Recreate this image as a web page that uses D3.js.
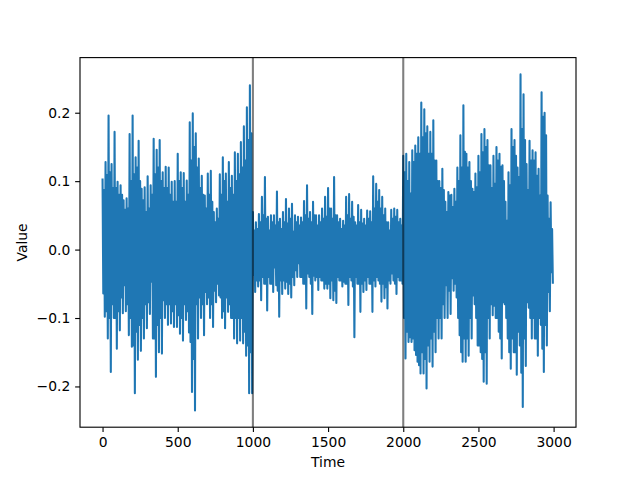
<!DOCTYPE html>
<html>
<head>
<meta charset="utf-8">
<script src="https://cdn.jsdelivr.net/npm/d3@7"></script>
<style>
  html, body { margin: 0; padding: 0; background: #fff; }
  svg { display: block; }
  text { font-family: "DejaVu Sans", sans-serif; font-size: 13.89px; fill: #000; }
</style>
</head>
<body>
<script>
// Series, per 20-step window of Time:
// the highest and lowest value, plus the secondary (inner) high and low of the window.
const binSize = 20;
const upperValues = [
  0.104, 0.128, 0.196, 0.125, 0.172, 0.099, 0.094, 0.072, 0.075, 0.169,
  0.196, 0.135, 0.159, 0.089, 0.091, 0.107, 0.094, 0.162, 0.146, 0.160,
  0.113, 0.121, 0.120, 0.099, 0.100, 0.140, 0.113, 0.112, 0.101, 0.186,
  0.199, 0.170, 0.133, 0.108, 0.079, 0.111, 0.115, 0.055, 0.060, 0.110,
  0.135, 0.111, 0.128, 0.108, 0.142, 0.140, 0.157, 0.180, 0.208, 0.240,
  0.055, 0.040, 0.052, 0.077, 0.106, 0.048, 0.050, 0.050, 0.085, 0.045,
  0.055, 0.074, 0.060, 0.067, 0.050, 0.048, 0.047, 0.071, 0.094, 0.055,
  0.070, 0.050, 0.050, 0.060, 0.077, 0.090, 0.060, 0.106, 0.050, 0.045,
  0.042, 0.077, 0.081, 0.070, 0.040, 0.065, 0.058, 0.045, 0.057, 0.056,
  0.107, 0.096, 0.087, 0.077, 0.060, 0.040, 0.058, 0.060, 0.058, 0.045,
  0.137, 0.140, 0.128, 0.145, 0.152, 0.164, 0.215, 0.205, 0.180, 0.172,
  0.189, 0.130, 0.100, 0.118, 0.070, 0.084, 0.080, 0.089, 0.120, 0.167,
  0.211, 0.140, 0.128, 0.089, 0.111, 0.137, 0.169, 0.176, 0.160, 0.123,
  0.137, 0.150, 0.140, 0.123, 0.070, 0.113, 0.176, 0.160, 0.120, 0.256,
  0.227, 0.125, 0.159, 0.145, 0.142, 0.118, 0.230, 0.200, 0.079, 0.069
];
const upperInnerValues = [
  0.087, 0.109, 0.113, 0.090, 0.090, 0.080, 0.080, 0.058, 0.060, 0.100,
  0.110, 0.120, 0.100, 0.072, 0.055, 0.060, 0.080, 0.110, 0.120, 0.100,
  0.090, 0.090, 0.080, 0.070, 0.070, 0.100, 0.090, 0.070, 0.080, 0.130,
  0.150, 0.120, 0.090, 0.080, 0.060, 0.080, 0.070, 0.040, 0.045, 0.080,
  0.100, 0.070, 0.090, 0.080, 0.100, 0.110, 0.120, 0.130, 0.160, 0.170,
  0.028, 0.030, 0.040, 0.050, 0.045, 0.028, 0.040, 0.035, 0.040, 0.030,
  0.040, 0.038, 0.045, 0.026, 0.040, 0.035, 0.040, 0.050, 0.045, 0.040,
  0.050, 0.035, 0.040, 0.045, 0.048, 0.060, 0.045, 0.050, 0.040, 0.030,
  0.035, 0.050, 0.045, 0.048, 0.035, 0.040, 0.038, 0.035, 0.045, 0.040,
  0.060, 0.070, 0.060, 0.050, 0.040, 0.028, 0.045, 0.048, 0.040, 0.035,
  0.113, 0.100, 0.082, 0.128, 0.140, 0.140, 0.164, 0.170, 0.140, 0.140,
  0.130, 0.100, 0.090, 0.087, 0.055, 0.079, 0.062, 0.070, 0.100, 0.120,
  0.143, 0.120, 0.100, 0.084, 0.091, 0.113, 0.142, 0.150, 0.123, 0.090,
  0.096, 0.130, 0.121, 0.100, 0.042, 0.094, 0.150, 0.137, 0.106, 0.176,
  0.160, 0.087, 0.130, 0.130, 0.108, 0.079, 0.194, 0.167, 0.045, 0.030
];
const lowerInnerValues = [
  -0.064, -0.090, -0.100, -0.080, -0.100, -0.090, -0.070, -0.052, -0.080, -0.100,
  -0.140, -0.120, -0.110, -0.100, -0.080, -0.077, -0.047, -0.130, -0.110, -0.100,
  -0.074, -0.080, -0.080, -0.090, -0.080, -0.096, -0.100, -0.080, -0.090, -0.135,
  -0.160, -0.080, -0.070, -0.080, -0.062, -0.070, -0.080, -0.060, -0.050, -0.070,
  -0.090, -0.070, -0.080, -0.100, -0.100, -0.100, -0.100, -0.120, -0.140, -0.150,
  -0.037, -0.045, -0.045, -0.040, -0.050, -0.040, -0.050, -0.026, -0.060, -0.045,
  -0.045, -0.047, -0.050, -0.040, -0.030, -0.020, -0.040, -0.050, -0.035, -0.050,
  -0.038, -0.040, -0.040, -0.045, -0.050, -0.050, -0.045, -0.060, -0.040, -0.045,
  -0.047, -0.050, -0.040, -0.054, -0.040, -0.050, -0.050, -0.045, -0.040, -0.050,
  -0.045, -0.040, -0.050, -0.050, -0.055, -0.045, -0.035, -0.050, -0.040, -0.045,
  -0.100, -0.120, -0.128, -0.130, -0.154, -0.169, -0.150, -0.160, -0.140, -0.130,
  -0.120, -0.100, -0.100, -0.080, -0.052, -0.060, -0.042, -0.050, -0.100, -0.150,
  -0.130, -0.130, -0.100, -0.067, -0.100, -0.140, -0.160, -0.150, -0.100, -0.080,
  -0.082, -0.100, -0.130, -0.077, -0.100, -0.150, -0.130, -0.150, -0.120, -0.180,
  -0.130, -0.077, -0.100, -0.100, -0.130, -0.100, -0.145, -0.110, -0.062, -0.033
];
const lowerValues = [
  -0.098, -0.130, -0.179, -0.100, -0.145, -0.118, -0.093, -0.090, -0.125, -0.142,
  -0.210, -0.161, -0.148, -0.130, -0.115, -0.094, -0.130, -0.186, -0.150, -0.152,
  -0.100, -0.110, -0.108, -0.113, -0.113, -0.123, -0.133, -0.103, -0.121, -0.208,
  -0.235, -0.130, -0.100, -0.125, -0.080, -0.100, -0.113, -0.077, -0.067, -0.100,
  -0.115, -0.091, -0.100, -0.130, -0.137, -0.133, -0.137, -0.155, -0.210, -0.210,
  -0.062, -0.054, -0.074, -0.050, -0.089, -0.050, -0.062, -0.052, -0.098, -0.065,
  -0.057, -0.065, -0.070, -0.052, -0.040, -0.040, -0.050, -0.086, -0.040, -0.094,
  -0.045, -0.059, -0.045, -0.057, -0.057, -0.071, -0.074, -0.078, -0.045, -0.054,
  -0.050, -0.081, -0.045, -0.128, -0.050, -0.091, -0.062, -0.059, -0.050, -0.091,
  -0.054, -0.045, -0.076, -0.071, -0.086, -0.050, -0.045, -0.065, -0.045, -0.050,
  -0.159, -0.135, -0.135, -0.147, -0.164, -0.181, -0.181, -0.203, -0.164, -0.171,
  -0.150, -0.130, -0.130, -0.100, -0.100, -0.094, -0.060, -0.070, -0.125, -0.164,
  -0.164, -0.155, -0.130, -0.080, -0.140, -0.150, -0.193, -0.196, -0.130, -0.096,
  -0.100, -0.120, -0.159, -0.080, -0.130, -0.174, -0.150, -0.183, -0.140, -0.230,
  -0.170, -0.085, -0.130, -0.130, -0.155, -0.110, -0.179, -0.140, -0.090, -0.050
];
const markerTimes = [1000, 2000];
const xTickValues = [0, 500, 1000, 1500, 2000, 2500, 3000];
const yTickValues = [-0.2, -0.1, 0.0, 0.1, 0.2];
const xLabel = "Time";
const yLabel = "Value";

// Build the line table: four readings per window, in time order
const series = [];
upperValues.forEach((v, i) => {
  const t0 = i * binSize;
  series.push({ t: t0, v: v });
  series.push({ t: t0 + binSize * 0.25, v: lowerInnerValues[i] });
  series.push({ t: t0 + binSize * 0.5, v: upperInnerValues[i] });
  series.push({ t: t0 + binSize * 0.75, v: lowerValues[i] });
});

const W = 640, H = 480;
const mLeft = 80, mRight = 576, mTop = 57.6, mBottom = 427.2;
const pt = 100 / 72;

const tMin = 0, tMax = 2999;
const tPad = (tMax - tMin) * 0.05;
const vExt = d3.extent(series, d => d.v);
const vPad = (vExt[1] - vExt[0]) * 0.05;

const x = d3.scaleLinear().domain([tMin - tPad, tMax + tPad]).range([mLeft, mRight]);
const y = d3.scaleLinear().domain([vExt[0] - vPad, vExt[1] + vPad]).range([mBottom, mTop]);

const svg = d3.select("body").append("svg").attr("width", W).attr("height", H);
svg.append("rect").attr("width", W).attr("height", H).attr("fill", "#fff");

const line = d3.line().x(d => x(d.t)).y(d => y(d.v));
svg.append("path")
  .datum(series)
  .attr("d", line)
  .attr("fill", "none")
  .attr("stroke", "#1f77b4")
  .attr("stroke-width", 1.5 * pt)
  .attr("stroke-linejoin", "round");

svg.selectAll("line.marker")
  .data(markerTimes)
  .enter().append("line")
  .attr("class", "marker")
  .attr("x1", d => x(d)).attr("x2", d => x(d))
  .attr("y1", mTop).attr("y2", mBottom)
  .attr("stroke", "#000")
  .attr("stroke-opacity", 0.5)
  .attr("stroke-width", 1.5 * pt);

const fmt = d3.format(".1f");
const minusFmt = d => fmt(d).replace("-", "\u2212");

const xAxis = d3.axisBottom(x).tickValues(xTickValues).tickSize(3.5 * pt).tickPadding(3.5 * pt).tickFormat(d3.format("d"));
const yAxis = d3.axisLeft(y).tickValues(yTickValues).tickSize(3.5 * pt).tickPadding(3.5 * pt).tickFormat(minusFmt);

const gx = svg.append("g").attr("transform", `translate(0,${mBottom})`).call(xAxis);
const gy = svg.append("g").attr("transform", `translate(${mLeft},0)`).call(yAxis);
[gx, gy].forEach(g => {
  g.select(".domain").remove();
  g.selectAll(".tick line").attr("stroke", "#000").attr("stroke-width", 0.8 * pt);
  g.selectAll(".tick text").style("font-family", "DejaVu Sans").style("font-size", "13.89px").attr("fill", "#000");
});

svg.append("rect")
  .attr("x", mLeft).attr("y", mTop)
  .attr("width", mRight - mLeft).attr("height", mBottom - mTop)
  .attr("fill", "none").attr("stroke", "#000").attr("stroke-width", 0.8 * pt);

svg.append("text")
  .attr("x", (mLeft + mRight) / 2).attr("y", 467)
  .attr("text-anchor", "middle")
  .text(xLabel);

svg.append("text")
  .attr("transform", `translate(27,${(mTop + mBottom) / 2}) rotate(-90)`)
  .attr("text-anchor", "middle")
  .text(yLabel);
</script>
</body>
</html>
